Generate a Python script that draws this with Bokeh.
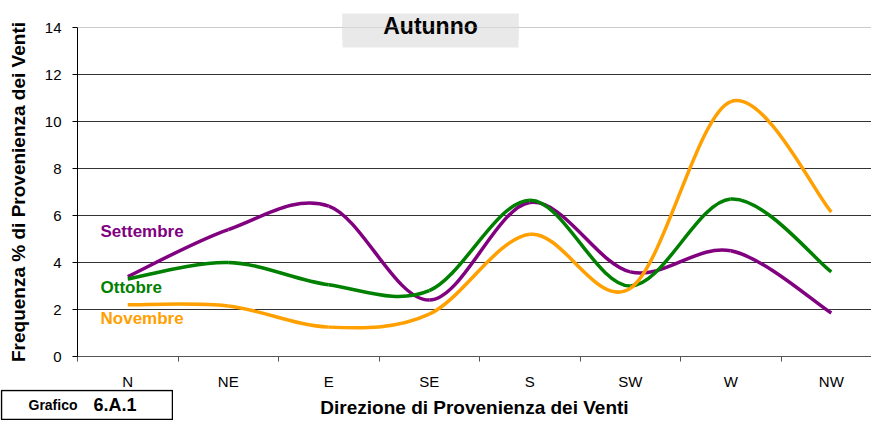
from bokeh.plotting import figure
from bokeh.models import Range1d, FixedTicker, Span, Label, BoxAnnotation
from bokeh.layouts import column
from bokeh.embed import file_html
from bokeh.resources import INLINE

# ---- data ----
directions = ["N", "NE", "E", "SE", "S", "SW", "W", "NW"]
settembre = [3.4, 5.4, 6.4, 2.4, 6.55, 3.6, 4.5, 1.85]
ottobre = [3.3, 4.0, 3.05, 2.8, 6.65, 3.0, 6.7, 3.6]
novembre = [2.2, 2.15, 1.25, 1.8, 5.2, 2.9, 10.85, 6.15]
y_ticks = [0, 2, 4, 6, 8, 10, 12, 14]
series_names = ["Settembre", "Ottobre", "Novembre"]
series_colors = ["#800080", "#008000", "#FFA000"]

FONT = "Liberation Sans"

p = figure(width=871, height=420, output_backend="svg", toolbar_location=None,
           x_range=Range1d(0, 7.9), y_range=Range1d(0, 14),
           min_border_left=77, min_border_right=0, min_border_top=27, min_border_bottom=63,
           background_fill_color="white", border_fill_color="white")
p.outline_line_color = None
p.xgrid.visible = False
p.ygrid.ticker = FixedTicker(ticks=y_ticks[1:-1])
p.ygrid.grid_line_color = "#333333"
p.ygrid.grid_line_width = 1

centers = [i + 0.5 for i in range(len(directions))]

# x axis
xa = p.xaxis[0]
xa.ticker = FixedTicker(ticks=centers, minor_ticks=list(range(len(directions) + 1)))
xa.major_label_overrides = {c: d for c, d in zip(centers, directions)}
xa.major_tick_line_color = None
xa.major_tick_out = 0
xa.major_tick_in = 0
xa.minor_tick_out = 5
xa.minor_tick_in = 0
xa.minor_tick_line_color = "#555555"
xa.axis_line_color = "#555555"
xa.major_label_standoff = 11
xa.major_label_text_font = FONT
xa.major_label_text_font_size = "15px"
xa.major_label_text_color = "black"
xa.axis_label = "Direzione di Provenienza dei Venti"
xa.axis_label_text_font = FONT
xa.axis_label_text_font_size = "19px"
xa.axis_label_text_font_style = "bold"
xa.axis_label_text_color = "black"
xa.axis_label_standoff = 4

# y axis
ya = p.yaxis[0]
ya.ticker = FixedTicker(ticks=y_ticks)
ya.major_tick_out = 5
ya.major_tick_in = 0
ya.minor_tick_line_color = None
ya.axis_line_color = "black"
ya.major_tick_line_color = "black"
ya.major_label_standoff = 11
ya.major_label_text_font = FONT
ya.major_label_text_font_size = "15px"
ya.major_label_text_color = "black"
ya.axis_label = "Frequenza % di Provenienza dei Venti"
ya.axis_label_text_font = FONT
ya.axis_label_text_font_size = "19px"
ya.axis_label_text_font_style = "bold"
ya.axis_label_text_color = "black"
ya.axis_label_standoff = 13

# top line at 14
p.add_layout(Span(location=14, dimension="width", line_color="#999999", line_width=1))


def smooth(vals):
    n = len(vals)
    xs = centers
    d = dict(x0=[], y0=[], x1=[], y1=[], cx0=[], cy0=[], cx1=[], cy1=[])
    for i in range(n - 1):
        a = max(i - 1, 0)
        b = min(i + 2, n - 1)
        d["x0"].append(xs[i]); d["y0"].append(vals[i])
        d["x1"].append(xs[i + 1]); d["y1"].append(vals[i + 1])
        d["cx0"].append(xs[i] + (xs[i + 1] - xs[a]) / 6)
        d["cy0"].append(vals[i] + (vals[i + 1] - vals[a]) / 6)
        d["cx1"].append(xs[i + 1] - (xs[b] - xs[i]) / 6)
        d["cy1"].append(vals[i + 1] - (vals[b] - vals[i]) / 6)
    return d


for vals, col in zip([settembre, ottobre, novembre], series_colors):
    s = smooth(vals)
    p.bezier(x0=s["x0"], y0=s["y0"], x1=s["x1"], y1=s["y1"],
             cx0=s["cx0"], cy0=s["cy0"], cx1=s["cx1"], cy1=s["cy1"],
             line_color=col, line_width=3.5)

# series labels
label_pos = [(0.229, 5.30), (0.229, 2.93), (0.229, 1.61)]
for name, col, (lx, ly) in zip(series_names, series_colors, label_pos):
    p.add_layout(Label(x=lx, y=ly, text=name, text_color=col, text_font=FONT,
                       text_font_size="17px", text_font_style="bold",
                       anchor="center_left"))

# title box: upper part drawn by a label in the top panel, lower part inside the frame
TITLE_BG = "#e9e9e9"
TITLE_X, TITLE_Y = 3.512, 14.047
title_style = dict(text="Autunno", text_font=FONT, text_font_size="23px",
                   text_font_style="bold", text_color="black", anchor="center")
p.add_layout(Label(x=TITLE_X, y=TITLE_Y, background_fill_color=TITLE_BG,
                   padding=dict(left=41, right=41, top=0, bottom=0), **title_style), "above")
p.add_layout(BoxAnnotation(left=2.637, right=4.388, top=14.2, bottom=13.15,
                           fill_color=TITLE_BG, fill_alpha=1, line_color=None))
p.add_layout(Label(x=TITLE_X, y=TITLE_Y, **title_style))

# "Grafico 6.A.1" box as a small overlaid figure (its frame is aligned with the main one,
# so the figure is shifted left by the main plot's left border)
SHIFT = 77
g = figure(width=173 + SHIFT, height=31, output_backend="svg", toolbar_location=None,
           x_range=Range1d(0, 173), y_range=Range1d(0, 31),
           min_border=0, background_fill_color="white", border_fill_color=None,
           styles={"position": "absolute", "left": f"-{SHIFT}px", "top": "389px"})
g.axis.visible = False
g.grid.visible = False
g.outline_line_color = None
g.quad(left=[1], right=[172], bottom=[1], top=[30], fill_color="white",
       line_color="black", line_width=1.5)
g.add_layout(Label(x=28, y=15.5, text="Grafico", text_font=FONT, text_font_size="14px",
                   text_font_style="bold", text_color="black", anchor="center_left"))
g.add_layout(Label(x=93, y=16, text="6.A.1", text_font=FONT, text_font_size="18px",
                   text_font_style="bold", text_color="black", anchor="center_left"))

layout = column(p, g, styles={"position": "relative"})

open("out.html", "w").write(file_html(layout, INLINE))
